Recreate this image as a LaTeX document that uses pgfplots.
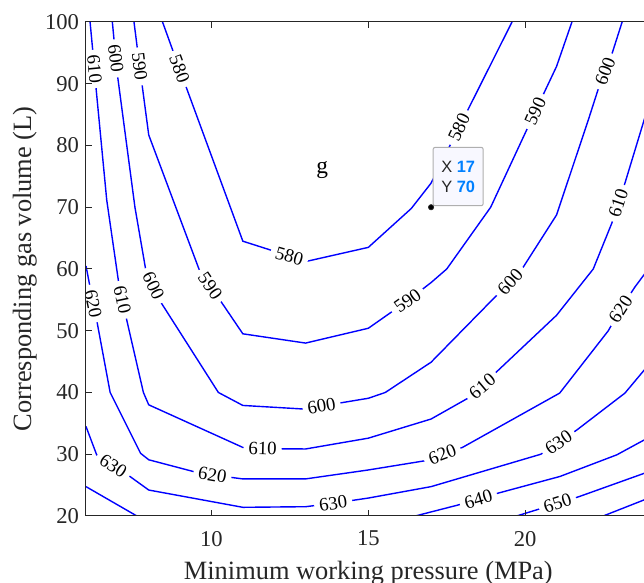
\documentclass[border=0pt]{standalone}
\usepackage{fontspec}
\setmainfont{Liberation Serif}
\newfontfamily\tipfont{Liberation Sans}
\usepackage{pgfplots}
\pgfplotsset{compat=1.18}
\definecolor{axgray}{RGB}{38,38,38}
\definecolor{tipblue}{RGB}{0,128,255}
\definecolor{tipfill}{RGB}{248,248,255}
\definecolor{tipdraw}{RGB}{175,175,175}
\definecolor{cblue}{RGB}{0,0,255}
\tikzset{
  cline/.style={draw=cblue, line width=0.7pt, mark=none},
  lbl/.style={font=\fontsize{9.4}{11}\selectfont, fill=white, inner xsep=2.5pt, inner ysep=0pt, text=black},
}
\begin{document}
\begin{tikzpicture}
\begin{axis}[
  scale only axis,
  width=282.35pt, height=247pt,
  xmin=6, xmax=24, ymin=20, ymax=100,
  enlargelimits=false,
  xtick={10,15,20}, ytick={20,30,...,100},
  tick align=inside,
  major tick length=3pt,
  axis on top,
  axis line style={axgray, line width=0.5pt},
  every tick/.style={axgray, line width=0.5pt},
  /pgf/number format/assume math mode=true,
  tick label style={font=\fontsize{11.3}{13}\selectfont, text=axgray},
  xticklabel style={yshift=-4pt},
  xlabel={Minimum working pressure (MPa)},
  ylabel={Corresponding gas volume (L)},
  label style={font=\fontsize{13.2}{15}\selectfont, text=axgray},
  xlabel style={at={(axis description cs:0.5,-0.1296)}, anchor=base},
  ylabel style={at={(axis description cs:-0.0974,0.5)}, anchor=base},
]
% 580
\addplot[cline] coordinates {(8.44,100) (8.98,92.4) (11,64.5) (12.48,62.1) (13,61.2) (15,63.5) (16.37,69.8) (17,73.9) (17.89,82.9) (19.58,100)};
% 590
\addplot[cline] coordinates {(7.53,100) (7.71,92.8) (8,81.7) (9.6,60) (9.96,57.3) (11,49.5) (13,48) (15,50.4) (16.25,54.85) (17,57.8) (17.5,60) (18.9,70) (20.32,85.5) (21,92.8) (21.49,100)};
% 600
\addplot[cline] coordinates {(6.84,100) (6.95,94.1) (7.0,91.5) (7.56,70) (7.9,60) (8.15,57.3) (8.4,54.5) (10.22,40) (11,37.9) (13,37.3) (13.51,37.8) (15,39.06) (15.54,40) (17,44.9) (19.52,57.95) (19.9,60) (21,68.75) (22.01,84.1) (22.32,89) (22.55,92.0) (22.77,94.9) (23.09,100)};
% 610
\addplot[cline] coordinates {(6.13,100) (6.27,92.4) (6.32,89.3) (6.66,71.2) (7.03,58.2) (7.16,55) (7.3,51.7) (7.83,40) (8,38) (11,31.1) (11.63,30.9) (13,30.85) (15,32.6) (17,35.7) (18.15,39) (18.63,41.0) (19.1,43.4) (21,52.5) (22.17,60) (22.76,67.4) (22.97,70.64) (23.18,73.9) (23.79,84.1) (24,87.6)};
% 620
\addplot[cline] coordinates {(6,60.5) (6.23,54.4) (6.36,51.2) (6.77,40) (7.74,30.15) (8,29.1) (9.42,27.2) (10.03,26.64) (11,26) (13,26) (15,27.45) (17,29.1) (17.36,29.96) (18,31.1) (21.1,39.9) (22.65,50) (23.04,53.5) (23.5,57.1) (24,60.5)};
% 630
\addplot[cline] coordinates {(6,34.5) (6.34,29.9) (6.87,28.13) (7.4,26.4) (8,24.2) (11,21.4) (13,21.5) (13.88,22.06) (15,22.9) (17,24.75) (20.5,30) (21.06,31.9) (21.64,33.9) (23.18,39.9) (23.79,43.6) (24,44.9)};
% 640
\addplot[cline] coordinates {(6,24.75) (7.62,20)};
\addplot[cline] coordinates {(16.5,20) (17.88,21.8) (18.51,22.72) (19.14,23.7) (21.11,26.4) (22.92,29.9) (23.79,32.3) (24,32.9)};
% 650
\addplot[cline] coordinates {(19.73,20) (20.37,21) (21.03,22.06) (21.7,23.1) (23.79,26.9) (24,27.3)};
% 660
\addplot[cline] coordinates {(22.49,20) (23.79,22.6) (24,23.0)};

% contour labels
\node[lbl, rotate=-70] at (axis cs:8.98,92.4) {580};
\node[lbl, rotate=-83] at (axis cs:7.71,92.8) {590};
\node[lbl, rotate=-83] at (axis cs:6.95,94.1) {600};
\node[lbl, rotate=-84.6] at (axis cs:6.27,92.4) {610};
\node[lbl, rotate=-16] at (axis cs:12.48,62.1) {580};
\node[lbl, rotate=-55.8] at (axis cs:9.96,57.3) {590};
\node[lbl, rotate=-64.5] at (axis cs:8.15,57.3) {600};
\node[lbl, rotate=-78] at (axis cs:7.16,55) {610};
\node[lbl, rotate=-78.2] at (axis cs:6.23,54.4) {620};
\node[lbl, rotate=-33] at (axis cs:6.87,28.13) {630};
\node[lbl, rotate=35.5] at (axis cs:16.25,54.85) {590};
\node[lbl, rotate=9.5] at (axis cs:13.51,37.8) {600};
\node[lbl, rotate=-1.5] at (axis cs:11.63,30.9) {610};
\node[lbl, rotate=-9.8] at (axis cs:10.03,26.64) {620};
\node[lbl, rotate=8.2] at (axis cs:13.88,22.06) {630};
\node[lbl, rotate=64.6] at (axis cs:17.89,82.9) {580};
\node[lbl, rotate=66] at (axis cs:20.32,85.5) {590};
\node[lbl, rotate=69] at (axis cs:22.55,92.0) {600};
\node[lbl, rotate=48.4] at (axis cs:19.52,57.95) {600};
\node[lbl, rotate=40] at (axis cs:18.63,41.0) {610};
\node[lbl, rotate=71.6] at (axis cs:22.97,70.64) {610};
\node[lbl, rotate=20.6] at (axis cs:17.36,29.96) {620};
\node[lbl, rotate=56.8] at (axis cs:23.04,53.5) {620};
\node[lbl, rotate=34.3] at (axis cs:21.06,31.9) {630};
\node[lbl, rotate=16.5] at (axis cs:18.51,22.72) {640};
\node[lbl, rotate=17.7] at (axis cs:21.03,22.06) {650};

% text g
\node[font=\fontsize{11.7}{13}\selectfont, inner sep=0pt] at (axis cs:13.53,76.0) {g};

% data tip
\addplot[only marks, mark=*, mark size=1.3pt, mark options={fill=black, draw=black!85}] coordinates {(17,70)};
\node[anchor=south west, xshift=0.8pt, yshift=0.5pt, draw=tipdraw, fill=tipfill, rounded corners=1pt,
      line width=0.5pt, minimum width=25pt, minimum height=29.2pt, align=left, inner sep=0pt,
      font=\tipfont\fontsize{8.2}{10}\selectfont]
  at (axis cs:17,70) {\textcolor{axgray}{X} \textcolor{tipblue}{\bfseries 17}\\\textcolor{axgray}{Y} \textcolor{tipblue}{\bfseries 70}};

\coordinate (bbSW) at (axis cs:3.2585,9.150);
\coordinate (bbNE) at (axis cs:23.788,103.563);
\end{axis}
\pgfresetboundingbox
\useasboundingbox (bbSW) rectangle (bbNE);
\end{tikzpicture}
\end{document}
